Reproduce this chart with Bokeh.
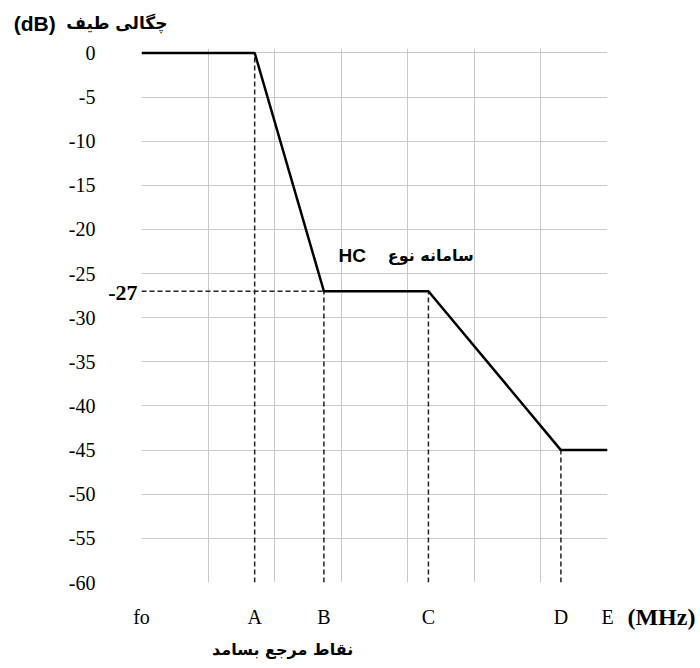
from bokeh.plotting import figure
from bokeh.models import Range1d, FixedTicker, Label
from bokeh.embed import file_html
from bokeh.resources import INLINE

# Reference points (grid units along the frequency axis)
point_names = ["fo", "A", "B", "C", "D", "E"]
point_x = [0.0, 1.70, 2.74, 4.31, 6.30, 7.0]
mask_db = [0, 0, -27, -27, -45, -45]
y_ticks = [0, -5, -10, -15, -20, -25, -30, -35, -40, -45, -50, -55, -60]
grid_x = [0, 1, 2, 3, 4, 5, 6, 7]
ref_level = -27

p = figure(frame_width=466, frame_height=534, output_backend="svg",
           toolbar_location=None, x_range=Range1d(0, 7), y_range=Range1d(-60, 0.5),
           min_border_left=141, min_border_right=88, min_border_top=48,
           min_border_bottom=86)
p.outline_line_color = None
p.background_fill_color = "white"

# grids
p.xgrid.ticker = FixedTicker(ticks=grid_x)
p.ygrid.ticker = FixedTicker(ticks=y_ticks)
p.xgrid.grid_line_color = "#c8c8c8"
p.ygrid.grid_line_color = "#c8c8c8"

# axes
p.yaxis.ticker = FixedTicker(ticks=y_ticks)
p.yaxis.major_label_overrides = {t: str(t) for t in y_ticks}
p.yaxis.axis_line_color = None
p.yaxis.major_tick_line_color = None
p.yaxis.minor_tick_line_color = None
p.yaxis.major_label_standoff = 40
p.yaxis.major_label_text_font = "Liberation Serif"
p.yaxis.major_label_text_font_size = "20px"
p.yaxis.major_label_text_color = "black"

p.xaxis.ticker = FixedTicker(ticks=point_x)
p.xaxis.major_label_overrides = {x: n for x, n in zip(point_x, point_names)}
p.xaxis.axis_line_color = None
p.xaxis.major_tick_line_color = None
p.xaxis.minor_tick_line_color = None
p.xaxis.major_label_standoff = 17
p.xaxis.major_label_text_font = "Liberation Serif"
p.xaxis.major_label_text_font_size = "20px"
p.xaxis.major_label_text_color = "black"

# dashed guide lines
for i in [1, 2, 3, 4]:
    p.line([point_x[i], point_x[i]], [-60, mask_db[i]], line_color="#222222",
           line_width=1.5, line_dash="5 3")
p.line([point_x[0], point_x[2]], [ref_level, ref_level], line_color="#222222",
       line_width=1.5, line_dash="5 3")

# mask
p.line(point_x, mask_db, line_color="black", line_width=2.5)

# annotations inside the frame
p.add_layout(Label(x=2.96, y=-22.9, text="HC", text_align="left",
                   text_baseline="middle", text_font="Liberation Sans",
                   text_font_style="bold", text_font_size="19px", text_color="black"))
p.add_layout(Label(x=4.99, y=-22.9, text="سامانه نوع", text_align="right",
                   text_baseline="middle", text_font="DejaVu Sans",
                   text_font_style="bold", text_font_size="16px", text_color="black"))

# labels outside the frame (in side panels, positioned in data units)
p.add_layout(Label(x=-0.06, y=-27.2, text=str(ref_level), text_align="right",
                   text_baseline="middle", text_font="Liberation Serif",
                   text_font_style="bold", text_font_size="22px",
                   text_color="black"), "left")
p.add_layout(Label(x=-1.92, y=3.36, text="(dB)", text_align="left",
                   text_baseline="middle", text_font="Liberation Sans",
                   text_font_style="bold", text_font_size="21px",
                   text_color="black"), "above")
p.add_layout(Label(x=0.39, y=3.36, text="چگالی طیف", text_align="right",
                   text_baseline="middle", text_font="DejaVu Sans",
                   text_font_style="bold", text_font_size="17px",
                   text_color="black"), "above")
p.add_layout(Label(x=7.30, y=-63.9, text="(MHz)", text_align="left",
                   text_baseline="middle", text_font="Liberation Serif",
                   text_font_style="bold", text_font_size="24px",
                   text_color="black"), "right")
p.add_layout(Label(x=2.12, y=-67.6, text="نقاط مرجع بسامد", text_align="center",
                   text_baseline="middle", text_font="DejaVu Sans",
                   text_font_style="bold", text_font_size="16px",
                   text_color="black"), "below")

open("out.html", "w").write(file_html(p, INLINE))
